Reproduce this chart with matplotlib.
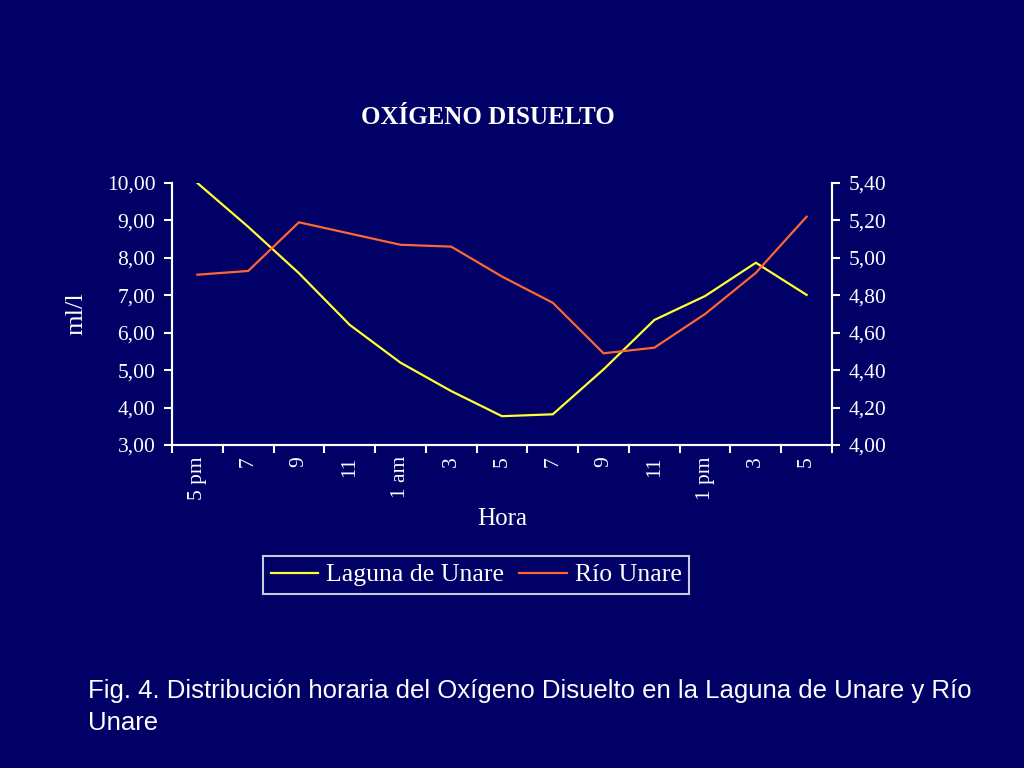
import matplotlib
matplotlib.use("Agg")
import matplotlib.pyplot as plt
from matplotlib.ticker import FuncFormatter, FixedLocator
from matplotlib.lines import Line2D

horas = ["5 pm", "7", "9", "11", "1 am", "3", "5", "7", "9", "11", "1 pm", "3", "5"]
laguna = [10.00, 8.83, 7.59, 6.21, 5.20, 4.44, 3.77, 3.82, 5.02, 6.34, 6.98, 7.87, 7.01]
rio = [4.91, 4.93, 5.19, 5.13, 5.07, 5.06, 4.90, 4.76, 4.49, 4.52, 4.70, 4.92, 5.22]

bg = "#000066"
serif = ["Liberation Serif", "DejaVu Serif"]
sans = ["Liberation Sans", "DejaVu Sans"]

fig = plt.figure(figsize=(10.24, 7.68), dpi=100, facecolor=bg)
ax = fig.add_axes([172/1024, 1-445/768, 660/1024, 262/768])
ax.set_facecolor(bg)
ax2 = ax.twinx()

x = list(range(len(horas)))
ax.plot(x, laguna, color="#ffff33", lw=1.6, zorder=3)
ax2.plot(x, rio, color="#ff6633", lw=1.6, zorder=3)

ax.set_xlim(-0.5, len(horas) - 0.5)
ax.set_ylim(3, 10)
ax2.set_ylim(4.0, 5.4)
ax.set_yticks([3, 4, 5, 6, 7, 8, 9, 10])
ax2.set_yticks([4.0, 4.2, 4.4, 4.6, 4.8, 5.0, 5.2, 5.4])
fmt = FuncFormatter(lambda v, p: f"{v:.2f}".replace(".", ","))
ax.yaxis.set_major_formatter(fmt)
ax2.yaxis.set_major_formatter(fmt)

ax.xaxis.set_major_locator(FixedLocator([i - 0.5 for i in range(len(horas) + 1)]))
ax.xaxis.set_major_formatter(FuncFormatter(lambda v, p: ""))
ax.xaxis.set_minor_locator(FixedLocator(x))
ax.set_xticklabels(horas, minor=True, rotation=90, fontfamily=serif, fontsize=15.5, color="white", va="top")
ax.tick_params(axis="x", which="minor", length=0, pad=8)
ax.tick_params(axis="x", which="major", length=6, width=1.5, color="white", direction="out")

for a in (ax, ax2):
    for s in a.spines.values():
        s.set_color("white")
        s.set_linewidth(1.5)
    a.spines["top"].set_visible(False)
    a.tick_params(axis="y", length=6, width=1.5, color="white", labelcolor="white", labelsize=15.5, pad=6)
    for lab in a.get_yticklabels():
        lab.set_fontfamily(serif)

ax.set_ylabel("ml/l", fontfamily=serif, fontsize=19, color="white", labelpad=14)
ax.set_xlabel("Hora", fontfamily=serif, fontsize=18, color="white", labelpad=6)

fig.text(487.5/1024, 1-118/768, "OXÍGENO DISUELTO", ha="center", va="center", fontfamily=serif,
         fontsize=18, fontweight="bold", color="white")

handles = [Line2D([], [], color="#ffff33", lw=1.6), Line2D([], [], color="#ff6633", lw=1.6)]
leg = fig.legend(handles, ["Laguna de Unare", "Río Unare"], loc="center",
                 bbox_to_anchor=(476/1024, 1-575/768), ncol=2, frameon=True, fancybox=False,
                 prop={"family": serif, "size": 18.5}, handlelength=1.85, columnspacing=0.6,
                 handletextpad=0.3, borderpad=0.3, borderaxespad=0)
leg.get_frame().set_facecolor(bg)
leg.get_frame().set_edgecolor("white")
leg.get_frame().set_linewidth(1.5)
for t in leg.get_texts():
    t.set_color("white")

fig.text(88/1024, 1-698/768, "Fig. 4. Distribución horaria del Oxígeno Disuelto en la Laguna de Unare y Río",
         ha="left", va="baseline", fontfamily=sans, fontsize=18.5, color="white")
fig.text(88/1024, 1-730/768, "Unare",
         ha="left", va="baseline", fontfamily=sans, fontsize=18.5, color="white")

fig.savefig("out.png", dpi=100, facecolor=bg)
